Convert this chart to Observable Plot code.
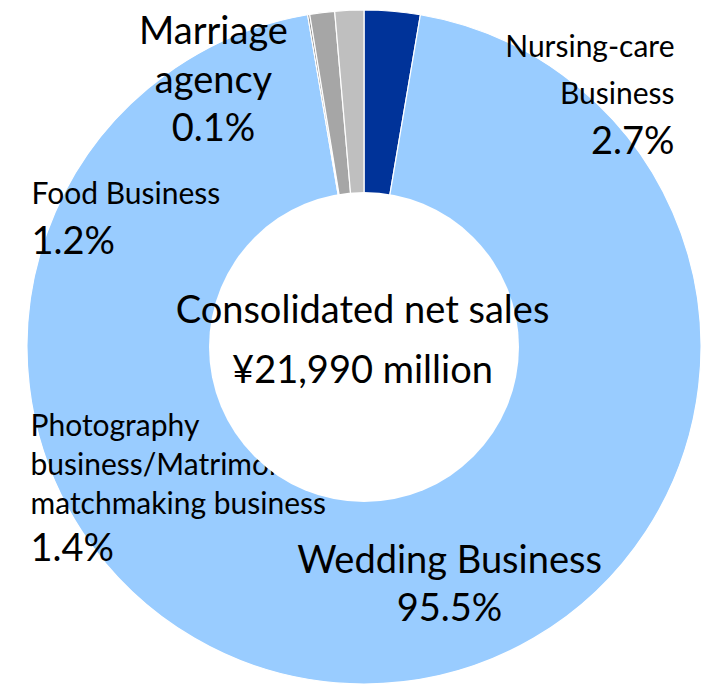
<!DOCTYPE html>
<html>
<head>
<meta charset="utf-8">
<script src="https://cdn.jsdelivr.net/npm/d3@7"></script>
<script src="https://cdn.jsdelivr.net/npm/@observablehq/plot@0.6"></script>
<style>
  html, body { margin: 0; padding: 0; background: #ffffff; }
  #chart svg { display: block; }
</style>
</head>
<body>
<div id="chart"></div>
<script>
// ---- data ----
const segments = [
  "Nursing-care Business",
  "Wedding Business",
  "Marriage agency",
  "Food Business",
  "Photography business/Matrimonial matchmaking business"
];
const shares = [2.7, 95.5, 0.1, 1.2, 1.4];
const sliceColors = ["#003399", "#99CCFF", "#808080", "#A6A6A6", "#BFBFBF"];
const labelLines = [
  ["Nursing-care", "Business"],
  ["Wedding Business"],
  ["Marriage", "agency"],
  ["Food Business"],
  ["Photography", "business/Matrimonial", "matchmaking business"]
];
const pctLabels = ["2.7%", "95.5%", "0.1%", "1.2%", "1.4%"];
const centerLines = ["Consolidated net sales", "¥21,990 million"];

// ---- layout (pixels) ----
const W = 709, H = 684;
const CX = 364, CY = 347, R_OUT = 337, R_IN = 155;
const FONT = "Lato, 'Open Sans', sans-serif";
const BIG = 38, SMALL = 30;
// per-segment label block: anchor, x, first baseline, line height, name size, pct baseline
const labelLayout = [
  {anchor: "end",    x: 674, y0: 56,  lh: 47, size: SMALL, py: 153, psize: BIG},
  {anchor: "middle", x: 449, y0: 572, lh: 48, size: BIG,   py: 620, psize: BIG},
  {anchor: "middle", x: 213, y0: 43,  lh: 49, size: BIG,   py: 140, psize: BIG},
  {anchor: "start",  x: 31,  y0: 203, lh: 48, size: SMALL, py: 253, psize: BIG},
  {anchor: "start",  x: 30,  y0: 435, lh: 39, size: SMALL, py: 560, psize: BIG}
];
const centerLayout = {x: 362, y0: 322, lh: 60, size: BIG};

// rows for the ring
const rows = segments.map((s, i) => ({segment: s, share: shares[i], color: sliceColors[i]}));

// text rows
const textRows = [];
labelLines.forEach((lines, i) => {
  const L = labelLayout[i];
  lines.forEach((t, j) => textRows.push({anchor: L.anchor, x: L.x, y: L.y0 + j * L.lh, size: L.size, text: t}));
  textRows.push({anchor: L.anchor, x: L.x, y: L.py, size: L.psize, text: pctLabels[i]});
});
const centerRows = centerLines.map((t, j) => ({x: centerLayout.x, y: centerLayout.y0 + j * centerLayout.lh, size: centerLayout.size, text: t}));

function ringMark(index, scales) {
  const cx = scales.x(CX), cy = scales.y(CY);
  const arcs = d3.pie().sort(null).value(d => d.share)(rows);
  const arc = d3.arc().innerRadius(0).outerRadius(R_OUT);
  const g = d3.create("svg:g").attr("transform", `translate(${cx},${cy})`);
  g.selectAll("path").data(arcs).join("path")
    .attr("d", arc)
    .attr("fill", d => d.data.color)
    .attr("stroke", "#ffffff")
    .attr("stroke-width", 1.2)
    .attr("stroke-linejoin", "round");
  return g.node();
}
function holeMark(index, scales) {
  const cx = scales.x(CX), cy = scales.y(CY);
  return d3.create("svg:circle").attr("cx", cx).attr("cy", cy).attr("r", R_IN).attr("fill", "#ffffff").node();
}

const textMark = (anchor) => Plot.text(textRows.filter(d => d.anchor === anchor), {
  x: "x", y: "y", text: "text", fontSize: "size", textAnchor: anchor,
  lineAnchor: "bottom", fill: "#000000", fontFamily: FONT
});

const chart = Plot.plot({
  width: W, height: H,
  margin: 0,
  x: {domain: [0, W], range: [0, W], axis: null},
  y: {domain: [0, H], range: [0, H], axis: null},
  style: {fontFamily: FONT, background: "#ffffff", overflow: "hidden"},
  marks: [
    ringMark,
    textMark("start"),
    textMark("middle"),
    textMark("end"),
    holeMark,
    Plot.text(centerRows, {x: "x", y: "y", text: "text", fontSize: "size", textAnchor: "middle", lineAnchor: "bottom", fill: "#000000", fontFamily: FONT})
  ]
});
document.getElementById("chart").append(chart);
</script>
</body>
</html>
